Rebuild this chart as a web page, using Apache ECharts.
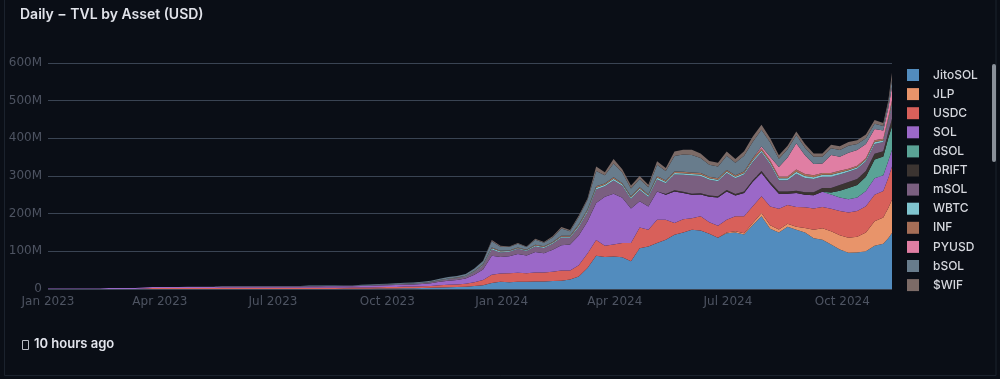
<!DOCTYPE html>
<html>
<head>
<meta charset="utf-8">
<script src="https://cdn.jsdelivr.net/npm/echarts@6/dist/echarts.min.js"></script>
<style>
html,body{margin:0;padding:0;background:#0a0e16;}
#chart{width:1000px;height:379px;}
</style>
</head>
<body>
<div id="chart"></div>
<script>
// ---- data (values in millions USD) ----
const weekStart = '2023-01-01';
const weekCount = 97;
const extraDates = ['2024-11-07', '2024-11-10'];
const xTickMonths = ['Jan','Apr','Jul','Oct'];
const yTicks = [0, 100, 200, 300, 400, 500, 600];
const assetNames = ['JitoSOL','JLP','USDC','SOL','dSOL','DRIFT','mSOL','WBTC','INF','PYUSD','bSOL','$WIF'];
const assetColors = ['#528cbe','#e8946a','#d8605a','#9b68c8','#5aa396','#3b3431','#7a5f80','#7fc4cf','#a56e57','#e07ea3','#687c8c','#7c6b67'];

const jitoSOL = [0,0,0,0,0,0,0,0,0,0,0,0,0,0,0,0,0,0,0,0,0,0,0,0,0,0,0,0,0,0,
  0.2,0.2,0.3,0.3,0.4,0.5,
  0.5,0.8,1,1.2,1.5,2,2.2,2.5,3,
  4,4.5,5,6,8,10,16,19,
  18,19,19,20,20,21,22,25,33,56,
  88,85,86,84,74,108,113,122,131,144,
  150,157,155,147,136,148,150,145,170,193,
  160,150,165,157,150,135,131,118,105,96,
  97,100,115,120,135,149];
const jlp = [0,0,0,0,0,0,0,0,0,0,0,0,0,0,0,0,0,0,0,0,0,0,0,0,0,0,0,0,0,0,0,0,0,0,0,0,0,0,0,0,
  0,0,0,0,0,0,0,0,0,0,0,0,0,0,0,0,0,0,0,0,0,0,0,0,0,0,0,0,0,0,0,0,0,0,0,0,0,0,
  2,3,3,5,9,
  9,8,8,8,12,22,30,35,38,40,
  42,50,65,70,80,88];
const usdc = [0,0,0,0,0,0,0,0,0,0,0,
  1,
  2.5,2.5,2.5,2.5,2.5,2.5,2.5,2.5,
  3,3,3,3,3,3,3,3,3,3,
  3.2,3.2,3.2,3.2,3.2,3.2,
  3.5,3.5,3.8,4,4,4.5,4.5,5,5,
  6,6.5,7,8,10,14,22,22,
  24,24,23,24,24,25,27,24,30,38,
  42,30,32,38,48,55,44,62,53,31,
  35,31,38,30,32,34,40,45,45,44,
  50,55,50,53,55,57,57,60,64,67,
  68,70,70,70,80,88];
const sol = [1.5,1.5,1.5,1.5,1.5,1.5,1.5,
  2.5,2.5,2.5,2.5,
  3,3,3,3,3,3,3,3,3,
  3.2,3.2,3.2,3.2,3.2,3.2,3.2,3.2,3.2,3.2,
  3.5,3.5,3.5,3.5,3.5,3.5,
  4,4.2,4.5,4.5,5,5,5.5,6,7,
  9,11,12,14,20,28,50,44,
  45,50,47,54,51,58,67,69,79,85,
  98,130,135,120,92,70,62,75,66,84,
  70,62,58,68,75,75,55,62,65,62,
  60,40,30,37,33,35,40,38,36,35,
  36,40,44,42,45,45];
const dsol = [0,0,0,0,0,0,0,0,0,0,0,0,0,0,0,0,0,0,0,0,0,0,0,0,0,0,0,0,0,0,
  0,0,0,0,0,0,0,0,0,0,0,0,0,0,0,0,0,0,0,0,0,0,0,0,0,0,0,0,0,0,
  0,0,0,0,0,0,0,0,0,0,0,0,0,0,0,0,0,0,0,0,0,0,0,0,0,0,0,0,0,0,
  5,18,30,33,38,50,50,60,62];
const drift = [0,0,0,0,0,0,0,0,0,0,0,0,0,0,0,0,0,0,0,0,0,0,0,0,0,0,0,0,0,0,
  0,0,0,0,0,0,0,0,0,0,0,0,0,0,0,0,0,0,0,0,0,0,0,0,0,0,0,0,0,0,
  0,0,0,0,0,0,0,0,0,0,0,
  2,3,3,3,3,3,3,4,4,4,4,5,
  5,6,6,6,7,8,10,12,15,16,
  16,15,15,14,16,20];
const msol = [0,0,0,0,0,0,0,0,0,0,0,0,0,0,0,0,
  0.8,0.8,0.8,0.8,
  0.8,0.8,0.8,0.8,
  1,1,1,1,1,1,
  1.2,1.2,1.2,1.2,1.2,1.2,
  1.5,1.5,1.8,2,2,2.2,2.3,2.5,3,
  3.5,4,4.5,5,7,10,17,12,
  12,13,12,15,14,16,20,18,22,25,
  36,28,35,32,25,30,25,32,29,42,
  45,48,46,42,40,45,42,45,48,50,
  47,30,30,45,38,35,30,30,28,27,
  27,26,26,24,28,35];
const wbtc = [0,0,0,0,0,0,0,0,0,0,0,0,0,0,0,0,0,0,0,0,
  0.2,0.2,0.2,0.2,0.2,0.2,0.2,0.2,0.2,0.2,0.2,0.2,0.2,0.2,0.2,0.2,
  0.3,0.3,0.4,0.4,0.5,0.5,0.5,0.5,0.6,
  0.8,1,1,1.2,1.5,2,3,2.5,
  2,2.5,2,2.5,2.5,3,3,3,4,4,
  5,4,5,4,4,4,4,5,4,4,
  4,4,4,4,4,4,4,4,5,5,
  5,5,5,5,5,5,5,5,5,4,
  4,4,5,4,5,6];
const inf = [0,0,0,0,0,0,0,0,0,0,0,0,0,0,0,0,0,0,0,0,0,0,0,0,0,0,0,0,0,0,
  0,0,0,0,0,0,0,0,0,0,0,0,0,
  0.3,0.4,
  0.5,0.6,0.7,0.8,1,1.5,2,2,
  1.5,1.5,1.5,2,2,2,2.5,2.5,3,3,
  4,3,4,3,3,3,3,4,3,4,
  4,4,4,4,4,4,4,4,5,5,
  5,5,5,6,5,5,5,5,5,4,
  4,4,5,5,6,8];
const pyusd = [0,0,0,0,0,0,0,0,0,0,0,0,0,0,0,0,0,0,0,0,0,0,0,0,0,0,0,0,0,0,
  0,0,0,0,0,0,0,0,0,0,0,0,0,0,0,0,0,0,0,0,0,0,0,0,0,0,0,0,0,0,
  0,0,0,0,0,0,0,0,0,0,0,0,0,0,0,0,0,0,0,0,0,0,
  5,10,25,50,70,50,30,25,48,37,43,
  42,38,30,22,25,35];
const bsol = [0,0,0,0,0,0,0,0,0,0,0,0,0,0,0,0,0,0,0,0,
  0.5,0.5,0.5,0.5,
  0.8,0.8,0.8,0.8,0.8,0.8,
  1,1,1,1,1,1,
  1.5,1.5,1.6,1.8,2,2.2,2.3,2.5,2.8,
  3.5,4,4.5,5,7,9,17,11,
  9,10,7,13,9,12,19,12,20,25,
  40,22,36,28,21,22,19,30,25,41,
  46,47,40,32,31,38,33,42,44,45,
  38,22,22,22,20,19,18,18,18,18,
  16,15,14,12,12,20];
const wif = [0,0,0,0,0,0,0,0,0,0,0,0,0,0,0,0,0,0,0,0,0,0,0,0,0,0,0,0,0,0,
  0,0,0,0,0,0,0,0,0,0,0,0,0,0,0,0,0,0,0,0,
  0.5,3,2.5,
  1.5,2,1.5,3,2,3,4,3,4,4,
  12,8,12,9,8,8,7,9,8,12,
  13,14,12,10,10,11,10,12,14,13,
  11,9,9,9,10,9,9,9,10,10,
  10,10,10,8,8,18];

const seriesValues = [jitoSOL, jlp, usdc, sol, dsol, drift, msol, wbtc, inf, pyusd, bsol, wif];

// ---- build ----
function utc(s){ const p = s.split('-').map(Number); return Date.UTC(p[0], p[1]-1, p[2]); }
const DAY = 86400000;
const dates = [];
for (let i = 0; i < weekCount; i++) dates.push(utc(weekStart) + i * 7 * DAY);
extraDates.forEach(d => dates.push(utc(d)));
const MONTHS = ['Jan','Feb','Mar','Apr','May','Jun','Jul','Aug','Sep','Oct','Nov','Dec'];

const chart = echarts.init(document.getElementById('chart'), null, {renderer: 'canvas'});
const series = assetNames.map((name, k) => ({
  name: name,
  type: 'line',
  stack: 'tvl',
  symbol: 'none',
  showSymbol: false,
  smooth: false,
  lineStyle: {width: 0},
  areaStyle: {opacity: 1, color: assetColors[k]},
  itemStyle: {color: assetColors[k]},
  emphasis: {disabled: true},
  data: dates.map((d, i) => [d, seriesValues[k][i]])
}));

chart.setOption({
  useUTC: true,
  backgroundColor: '#0a0e16',
  animation: false,
  grid: {left: 48, right: 108, top: 63, bottom: 90, containLabel: false},
  legend: {
    orient: 'vertical',
    left: 902,
    top: 64,
    itemWidth: 12,
    itemHeight: 12,
    itemGap: 7.1,
    icon: 'rect',
    selectedMode: false,
    textStyle: {color: '#d6d8de', fontSize: 12, fontFamily: 'Inter', fontWeight: 500, padding: [0,0,0,9], lineHeight: 12},
    data: assetNames
  },
  xAxis: {
    type: 'time',
    min: dates[0],
    max: dates[dates.length - 1],
    minInterval: 89 * DAY,
    maxInterval: 92 * DAY,
    axisLine: {show: false},
    axisTick: {show: false},
    splitLine: {show: false},
    axisLabel: {
      color: '#4e5462',
      fontSize: 12,
      fontFamily: 'DejaVu Sans',
      margin: 7,
      hideOverlap: false,
      formatter: function (v) {
        const d = new Date(v);
        const m = MONTHS[d.getUTCMonth()];
        return xTickMonths.indexOf(m) >= 0 && d.getUTCDate() === 1 ? m + ' ' + d.getUTCFullYear() : '';
      }
    }
  },
  yAxis: {
    type: 'value',
    min: yTicks[0],
    max: yTicks[yTicks.length - 1],
    interval: 100,
    axisLine: {show: false},
    axisTick: {show: false},
    splitLine: {show: true, lineStyle: {color: '#3a4453', width: 1}},
    axisLabel: {
      color: '#4e5462',
      fontSize: 12,
      fontFamily: 'DejaVu Sans',
      margin: 6,
      formatter: function (v) { return v === 0 ? '0' : v + 'M'; }
    }
  },
  graphic: [
    {type: 'rect', silent: true, shape: {x: 4.5, y: -20, width: 991.5, height: 395.5}, style: {fill: 'none', stroke: '#1b222d', lineWidth: 1}},
    {type: 'text', left: 20, top: 8, style: {text: 'Daily \u2212 TVL by Asset (USD)', fill: '#e1e3ea', font: '600 14px Inter'}},
    {type: 'rect', silent: true, shape: {x: 22.5, y: 340.5, width: 6, height: 9}, style: {fill: 'none', stroke: '#b9bcc4', lineWidth: 1}},
    {type: 'text', left: 34, top: 338, style: {text: '10 hours ago', fill: '#e4e6ee', font: '600 13px Inter'}},
    {type: 'rect', silent: true, shape: {x: 992, y: 64, width: 4, height: 98, r: 2}, style: {fill: '#8a9099'}}
  ],
  series: series
});
</script>
</body>
</html>
